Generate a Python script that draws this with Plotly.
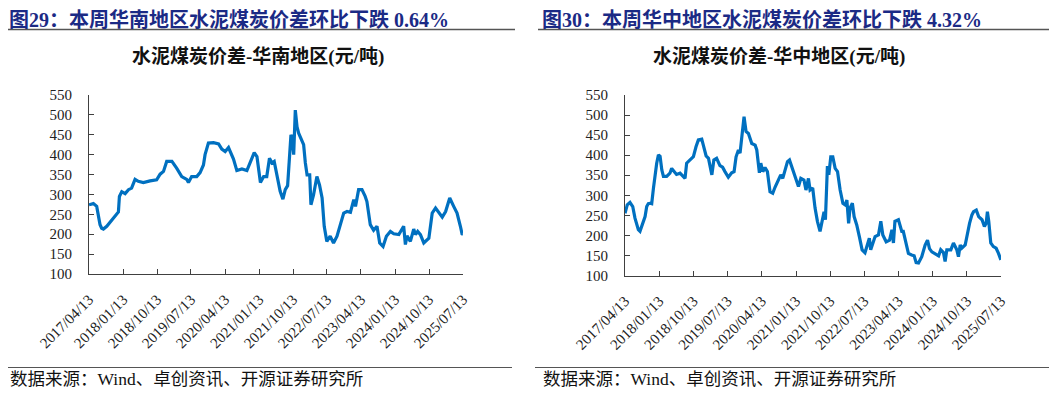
import plotly.graph_objects as go

W, H = 1057, 394      # browser window
OFF = 8               # default page body margin
FW, FH = W - OFF, H - OFF

# ---------------- data ----------------
tick_dates = ["2017-04-13", "2018-01-13", "2018-10-13", "2019-07-13", "2020-04-13", "2021-01-13",
              "2021-10-13", "2022-07-13", "2023-04-13", "2024-01-13", "2024-10-13", "2025-07-13"]
tick_labels = [d.replace("-", "/") for d in tick_dates]
y_ticks = [100, 150, 200, 250, 300, 350, 400, 450, 500, 550]

south_dates = [
    "2017-04-13", "2017-05-18", "2017-06-14", "2017-07-11", "2017-07-24", "2017-08-07", "2017-09-03",
    "2017-09-30", "2017-10-27", "2017-11-23", "2017-12-06", "2017-12-14", "2018-01-02", "2018-01-29",
    "2018-02-25", "2018-03-22", "2018-04-19", "2018-05-15", "2018-06-25", "2018-08-18", "2018-10-10",
    "2018-11-07", "2018-12-04", "2018-12-30", "2019-02-10", "2019-03-20", "2019-04-30", "2019-06-09",
    "2019-06-23", "2019-07-19", "2019-08-29", "2019-09-25", "2019-10-22", "2019-11-04", "2019-12-01",
    "2020-01-11", "2020-02-21", "2020-03-18", "2020-04-14", "2020-05-11", "2020-06-20", "2020-07-17",
    "2020-08-27", "2020-10-06", "2020-11-16", "2020-12-04", "2020-12-26", "2021-01-23", "2021-02-18",
    "2021-03-15", "2021-04-06", "2021-04-25", "2021-05-14", "2021-06-04", "2021-07-01", "2021-07-23",
    "2021-08-11", "2021-08-30", "2021-09-15", "2021-09-26", "2021-10-07", "2021-10-18", "2021-10-31",
    "2021-11-14", "2021-11-27", "2021-12-24", "2022-01-06", "2022-01-20", "2022-02-03", "2022-02-24",
    "2022-03-06", "2022-03-27", "2022-04-23", "2022-05-14", "2022-06-04", "2022-06-21", "2022-07-12",
    "2022-08-08", "2022-09-04", "2022-10-02", "2022-10-28", "2022-11-25", "2022-12-22", "2023-01-18",
    "2023-02-14", "2023-02-28", "2023-03-25", "2023-04-21", "2023-05-17", "2023-05-31", "2023-06-27",
    "2023-07-24", "2023-08-20", "2023-09-11", "2023-10-08", "2023-11-04", "2023-12-06", "2024-01-02",
    "2024-02-12", "2024-03-22", "2024-04-05", "2024-04-18", "2024-05-15", "2024-06-11", "2024-06-25",
    "2024-07-13", "2024-08-04", "2024-08-31", "2024-10-11", "2024-11-07", "2024-12-04", "2024-12-31",
    "2025-01-27", "2025-02-23", "2025-03-28", "2025-04-29", "2025-05-26", "2025-06-22", "2025-07-05",
    "2025-07-13"]
south_values = [
    274, 277, 270, 224, 215, 213, 220,
    230, 241, 253, 256, 295, 307, 302,
    312, 316, 338, 333, 330, 334, 337,
    351, 358, 383, 383, 366, 345, 338,
    330, 345, 345, 355, 374, 400, 429,
    430, 427, 414, 408, 418, 389, 360,
    364, 360, 391, 405, 395, 330, 345,
    345, 391, 379, 383, 349, 308, 288,
    312, 322, 400, 450, 437, 400, 512,
    470, 454, 437, 425, 379, 349, 349,
    274, 299, 345, 324, 291, 220, 182,
    195, 178, 195, 220, 253, 257, 255,
    287, 270, 312, 312, 295, 282, 224,
    210, 220, 178, 169, 195, 207, 201,
    199, 220, 174, 196, 182, 213, 199,
    207, 199, 178, 190, 253, 266, 253,
    243, 257, 291, 270, 253, 220, 201,
    200]

central_dates = [
    "2017-04-13", "2017-05-01", "2017-05-23", "2017-06-14", "2017-07-02", "2017-07-15", "2017-07-29",
    "2017-08-11", "2017-09-02", "2017-09-21", "2017-10-04", "2017-10-17", "2017-10-31", "2017-11-13",
    "2017-11-27", "2017-12-10", "2017-12-23", "2018-01-06", "2018-01-19", "2018-02-02", "2018-02-15",
    "2018-03-13", "2018-04-08", "2018-04-22", "2018-05-10", "2018-05-31", "2018-06-28", "2018-07-24",
    "2018-08-07", "2018-08-20", "2018-09-16", "2018-10-13", "2018-11-03", "2018-11-22", "2018-12-19",
    "2019-01-01", "2019-01-23", "2019-02-11", "2019-03-10", "2019-03-26", "2019-04-17", "2019-05-14",
    "2019-06-04", "2019-06-23", "2019-07-20", "2019-08-16", "2019-09-04", "2019-09-20", "2019-10-09",
    "2019-10-22", "2019-11-10", "2019-11-23", "2019-12-09", "2019-12-28", "2020-01-24", "2020-02-20",
    "2020-03-04", "2020-03-25", "2020-04-05", "2020-04-21", "2020-05-09", "2020-05-28", "2020-06-18",
    "2020-07-10", "2020-07-28", "2020-08-24", "2020-09-12", "2020-09-28", "2020-10-17", "2020-11-05",
    "2020-11-21", "2020-12-10", "2021-01-06", "2021-02-01", "2021-02-20", "2021-03-17", "2021-04-02",
    "2021-04-22", "2021-05-05", "2021-05-26", "2021-06-14", "2021-07-03", "2021-07-24", "2021-08-09",
    "2021-08-25", "2021-09-05", "2021-09-21", "2021-10-02", "2021-10-18", "2021-11-03", "2021-11-22",
    "2021-12-11", "2022-01-01", "2022-01-23", "2022-02-11", "2022-02-24", "2022-03-10", "2022-03-21",
    "2022-04-09", "2022-04-23", "2022-05-14", "2022-06-04", "2022-06-26", "2022-07-19", "2022-08-07",
    "2022-08-23", "2022-09-03", "2022-09-20", "2022-10-08", "2022-11-04", "2022-11-23", "2022-12-09",
    "2023-01-05", "2023-02-01", "2023-02-20", "2023-03-04", "2023-03-16", "2023-04-13", "2023-05-10",
    "2023-05-22", "2023-06-13", "2023-07-02", "2023-07-28", "2023-08-17", "2023-09-02", "2023-09-21",
    "2023-10-17", "2023-11-13", "2023-12-02", "2023-12-18", "2024-01-06", "2024-02-02", "2024-02-29",
    "2024-03-17", "2024-04-08", "2024-04-21", "2024-05-05", "2024-06-06", "2024-06-27", "2024-07-24",
    "2024-08-06", "2024-08-20", "2024-09-02", "2024-09-29", "2024-10-13", "2024-11-03", "2024-11-22",
    "2024-12-05", "2024-12-27", "2025-01-15", "2025-02-11", "2025-03-02", "2025-03-16", "2025-03-26",
    "2025-04-06", "2025-04-22", "2025-05-13", "2025-06-04", "2025-06-23", "2025-07-12"]
central_values = [
    255, 276, 282, 272, 243, 230, 214,
    210, 230, 247, 272, 279, 280, 279,
    318, 359, 380, 401, 397, 363, 347,
    347, 355, 367, 359, 352, 355, 347,
    342, 380, 388, 396, 421, 438, 440,
    425, 398, 392, 351, 388, 392, 374,
    370, 359, 345, 356, 359, 396, 413,
    405, 463, 496, 459, 454, 429, 425,
    413, 356, 380, 359, 369, 359, 309,
    305, 320, 338, 351, 342, 367, 384,
    388, 369, 347, 322, 342, 338, 313,
    342, 313, 318, 268, 235, 210, 239,
    259, 239, 373, 351, 396, 396, 367,
    359, 313, 280, 276, 288, 230, 268,
    280, 247, 226, 197, 164, 157, 177,
    193, 164, 181, 197, 201, 235, 201,
    184, 188, 214, 181, 235, 239, 210,
    210, 176, 155, 151, 149, 132, 131,
    147, 176, 188, 167, 159, 155, 149,
    164, 157, 135, 164, 164, 181, 164,
    147, 176, 168, 176, 201, 230, 251,
    259, 263, 247, 239, 222, 230, 259,
    235, 181, 172, 168, 155, 139]

header_left = "图29：本周华南地区水泥煤炭价差环比下跌 0.64%"
header_right = "图30：本周华中地区水泥煤炭价差环比下跌 4.32%"
title_left = "水泥煤炭价差-华南地区(元/吨)"
title_right = "水泥煤炭价差-华中地区(元/吨)"
source_text = "数据来源：Wind、卓创资讯、开源证券研究所"

# ---------------- styling ----------------
LINE_COLOR = "#0070C0"
AXIS_COLOR = "#404040"
HEADER_COLOR = "#1B2A85"
SERIF = "Liberation Serif, Noto Sans CJK SC, serif"
CJK = "Liberation Serif, Noto Sans CJK SC, sans-serif"


def px_x(p):
    """screen pixel -> paper x"""
    return min(max((p - OFF) / FW, 0), 1)


def px_y(p):
    """screen pixel -> paper y"""
    return min(max(1 - (p - OFF) / FH, 0), 1)


fig = go.Figure()
fig.add_trace(go.Scatter(x=south_dates, y=south_values, mode="lines",
                         line=dict(color=LINE_COLOR, width=3.2), xaxis="x", yaxis="y",
                         hoverinfo="x+y"))
fig.add_trace(go.Scatter(x=central_dates, y=central_values, mode="lines",
                         line=dict(color=LINE_COLOR, width=3.2), xaxis="x2", yaxis="y2",
                         hoverinfo="x+y"))

xaxis_common = dict(
    type="date", range=[tick_dates[0], tick_dates[-1]], automargin=False,
    tickmode="array", tickvals=tick_dates, ticktext=tick_labels,
    tickangle=-45, ticks="inside", ticklen=5, tickcolor=AXIS_COLOR,
    showline=True, linecolor=AXIS_COLOR, linewidth=1, showgrid=False, zeroline=False,
    tickfont=dict(family=SERIF, size=15, color="#222222"), ticklabelstandoff=10,
)
yaxis_common = dict(
    range=[100, 550], tickmode="array", tickvals=y_ticks, automargin=False,
    ticks="inside", ticklen=5, tickcolor=AXIS_COLOR,
    showline=True, linecolor=AXIS_COLOR, linewidth=1, showgrid=False, zeroline=False,
    tickfont=dict(family=SERIF, size=15, color="#222222"), ticklabelstandoff=13,
)

fig.update_layout(
    width=FW, height=FH, margin=dict(l=0, r=0, t=0, b=0, autoexpand=False),
    paper_bgcolor="white", plot_bgcolor="white", showlegend=False,
    xaxis=dict(domain=[px_x(89), px_x(463)], anchor="y", **xaxis_common),
    yaxis=dict(domain=[px_y(274), px_y(95)], anchor="x", **yaxis_common),
    xaxis2=dict(domain=[px_x(625), px_x(1001)], anchor="y2", **xaxis_common),
    yaxis2=dict(domain=[px_y(275.5), px_y(95)], anchor="x2", **yaxis_common),
)

annotations = []
# headers (anchored to the top edge so the text box stays inside the figure)
for txt, x0 in [(header_left, 7), (header_right, 541)]:
    annotations.append(dict(text="<b>" + txt + "</b>", x=px_x(x0), y=1, xref="paper", yref="paper",
                            xanchor="left", yanchor="top", showarrow=False, borderpad=0,
                            font=dict(family=CJK, size=20, color=HEADER_COLOR)))
# chart titles
for txt, xc in [(title_left, 258), (title_right, 779)]:
    annotations.append(dict(text="<b>" + txt + "</b>", x=px_x(xc), y=px_y(57), xref="paper", yref="paper",
                            xanchor="center", yanchor="middle", showarrow=False,
                            font=dict(family=CJK, size=19, color="#111111")))
# sources
for x0 in [7, 541]:
    annotations.append(dict(text=source_text, x=px_x(x0), y=px_y(379), xref="paper", yref="paper",
                            xanchor="left", yanchor="middle", showarrow=False,
                            font=dict(family=CJK, size=17.5, color="#111111")))
fig.update_layout(annotations=annotations)

shapes = []
for x0, x1 in [(5, 515), (538, 1052)]:
    shapes.append(dict(type="line", xref="paper", yref="paper", x0=px_x(x0), x1=px_x(x1),
                       y0=px_y(29.5), y1=px_y(29.5), line=dict(color="#555555", width=1.5)))
for x0, x1 in [(5, 512), (535, 1052)]:
    shapes.append(dict(type="line", xref="paper", yref="paper", x0=px_x(x0), x1=px_x(x1),
                       y0=px_y(367.5), y1=px_y(367.5), line=dict(color="#555555", width=1.2)))
fig.update_layout(shapes=shapes)

fig.write_html("out.html")
